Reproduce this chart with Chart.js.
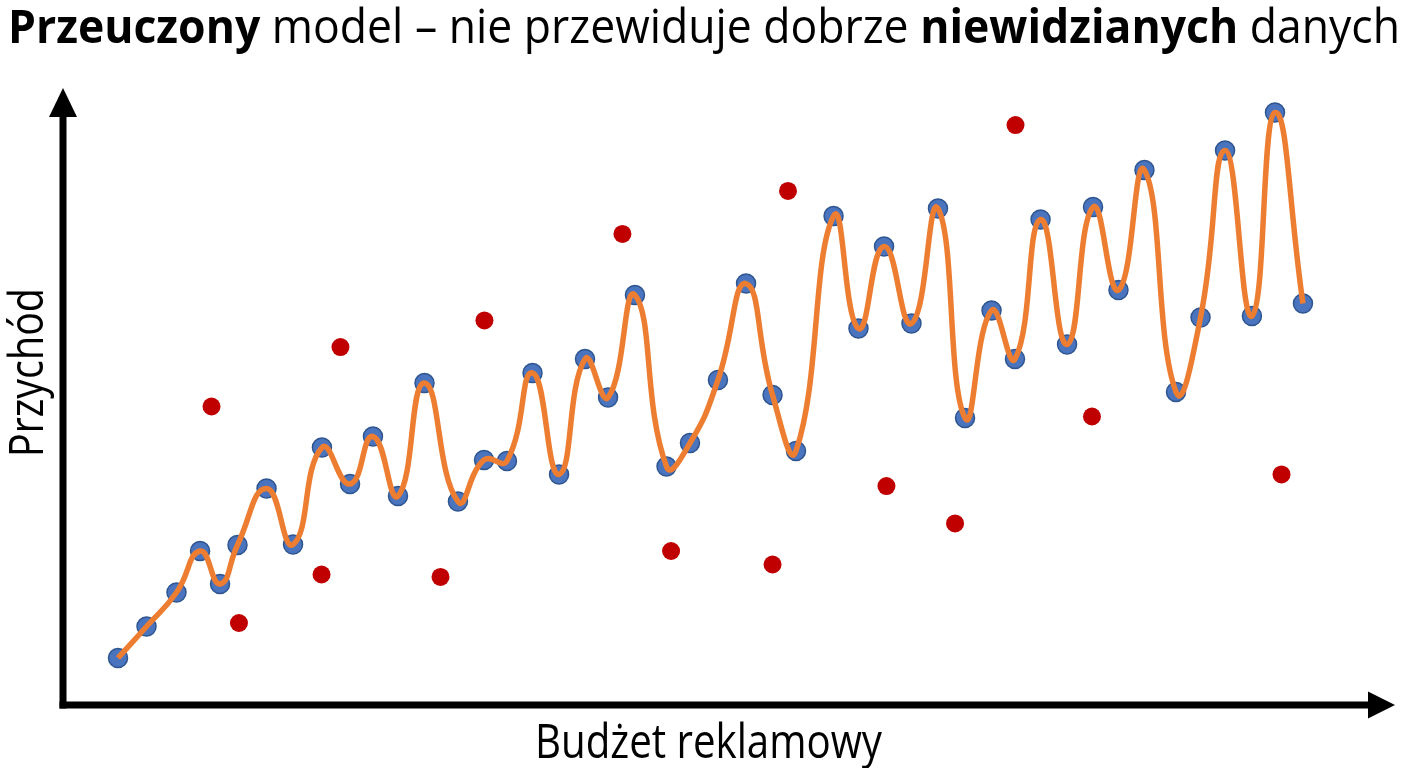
<!DOCTYPE html>
<html>
<head>
<meta charset="utf-8">
<script src="https://cdn.jsdelivr.net/npm/chart.js@4.4.0/dist/chart.umd.min.js"></script>
<style>
  html, body { margin: 0; padding: 0; background: #fff; }
</style>
</head>
<body>
<canvas id="chart" width="1408" height="768"></canvas>
<script>
// training data (blue) - budget vs revenue (0-100 units)
var trainX = [4.13, 6.27, 8.52, 10.29, 11.79, 13.10, 15.28, 17.27, 19.44, 21.55,
              23.27, 25.15, 27.14, 29.65, 31.61, 33.33, 35.25, 37.24, 39.19, 40.92,
              42.94, 45.31, 47.07, 49.17, 51.28, 53.27, 55.03, 57.85, 59.72, 61.64,
              63.70, 65.69, 67.72, 69.71, 71.47, 73.39, 75.38, 77.33, 79.24, 81.19,
              83.56, 85.40, 87.24, 89.26, 90.99, 93.09];
var trainY = [7.62, 12.72, 18.23, 24.96, 19.61, 25.93, 35.09, 26.01, 41.73, 35.82,
              43.52, 33.87, 52.19, 32.98, 39.71, 39.55, 53.81, 37.36, 56.08, 49.84,
              66.45, 38.65, 42.46, 52.67, 68.31, 50.24, 41.17, 79.25, 61.02, 74.31,
              61.83, 80.47, 46.52, 63.94, 56.08, 78.69, 58.43, 80.71, 67.26, 86.71,
              50.73, 62.80, 89.87, 63.05, 96.03, 65.07];

// unseen data (red)
var testX = [11.15, 13.21, 19.41, 20.83, 28.34, 31.64, 42.00, 45.65, 53.27, 54.43,
             61.82, 66.97, 71.51, 77.25, 91.48];
var testY = [48.38, 13.29, 21.15, 58.02, 20.75, 62.32, 76.34, 24.96, 22.77, 83.31,
             35.49, 29.42, 94.00, 46.76, 37.36];

var titleParts = [["Przeuczony", true], [" model \u2013 nie przewiduje dobrze ", false],
                  ["niewidzianych", true], [" danych", false]];
var xLabel = "Budżet reklamowy";
var yLabel = "Przychód";

function toPoints(xs, ys) {
  return xs.map(function (x, i) { return { x: x, y: ys[i] }; });
}

// draws a run of text pieces squeezed to a given width (the original font is narrow)
function fitText(ctx, parts, x, y, width, size) {
  var total = 0;
  parts.forEach(function (p) {
    ctx.font = (p[1] ? 'bold ' : '') + size + 'px "Open Sans"';
    total += ctx.measureText(p[0]).width;
  });
  ctx.save();
  ctx.translate(x, y);
  ctx.scale(width / total, 1);
  var cx = 0;
  parts.forEach(function (p) {
    ctx.font = (p[1] ? 'bold ' : '') + size + 'px "Open Sans"';
    ctx.fillText(p[0], cx, 0);
    cx += ctx.measureText(p[0]).width;
  });
  ctx.restore();
}

var decor = {
  id: 'decor',
  beforeDraw: function (chart) {
    var ctx = chart.ctx;
    ctx.save();
    ctx.fillStyle = '#fff';
    ctx.fillRect(0, 0, chart.width, chart.height);
    ctx.restore();
  },
  beforeDatasetsDraw: function (chart) {
    var ctx = chart.ctx, a = chart.chartArea;
    ctx.save();
    ctx.strokeStyle = '#000';
    ctx.fillStyle = '#000';
    ctx.lineWidth = 7;
    // y axis with arrow
    ctx.beginPath();
    ctx.moveTo(a.left, a.bottom + 3.5);
    ctx.lineTo(a.left, a.top + 25);
    ctx.stroke();
    ctx.beginPath();
    ctx.moveTo(a.left, a.top);
    ctx.lineTo(a.left - 14, a.top + 29);
    ctx.lineTo(a.left + 14, a.top + 29);
    ctx.closePath();
    ctx.fill();
    // x axis with arrow
    ctx.beginPath();
    ctx.moveTo(a.left - 3.5, a.bottom);
    ctx.lineTo(a.right - 24, a.bottom);
    ctx.stroke();
    ctx.beginPath();
    ctx.moveTo(a.right, a.bottom);
    ctx.lineTo(a.right - 27, a.bottom - 13.5);
    ctx.lineTo(a.right - 27, a.bottom + 13.5);
    ctx.closePath();
    ctx.fill();
    ctx.restore();
  },
  afterDraw: function (chart) {
    var ctx = chart.ctx;
    ctx.save();
    ctx.fillStyle = '#000';
    ctx.textBaseline = 'alphabetic';
    ctx.textAlign = 'left';
    fitText(ctx, titleParts, 8, 43, 1392, 47);
    fitText(ctx, [[xLabel, false]], 535, 758, 347, 47);
    ctx.translate(43, 457);
    ctx.rotate(-Math.PI / 2);
    fitText(ctx, [[yLabel, false]], 0, 0, 169, 47);
    ctx.restore();
  }
};

var ctx = document.getElementById('chart');
var chart = new Chart(ctx, {
  type: 'scatter',
  data: {
    datasets: [
      {
        label: 'Model',
        data: toPoints(trainX, trainY),
        showLine: true,
        borderColor: '#ed7d31',
        borderWidth: 5.5,
        tension: 0.5,
        pointRadius: 0,
        fill: false,
        order: 0
      },
      {
        label: 'Dane treningowe',
        data: toPoints(trainX, trainY),
        backgroundColor: '#4a74bd',
        borderColor: '#2e5590',
        borderWidth: 1.5,
        pointRadius: 9.5,
        order: 1
      },
      {
        label: 'Dane niewidziane',
        data: toPoints(testX, testY),
        backgroundColor: '#c00000',
        borderWidth: 0,
        pointRadius: 9,
        order: 2
      }
    ]
  },
  options: {
    responsive: false,
    animation: false,
    layout: { padding: { left: 63, right: 13, top: 88, bottom: 63 } },
    scales: {
      x: { type: 'linear', min: 0, max: 100, display: false },
      y: { type: 'linear', min: 0, max: 100, display: false }
    },
    plugins: {
      legend: { display: false },
      tooltip: { enabled: false }
    }
  },
  plugins: [decor]
});
</script>
</body>
</html>
